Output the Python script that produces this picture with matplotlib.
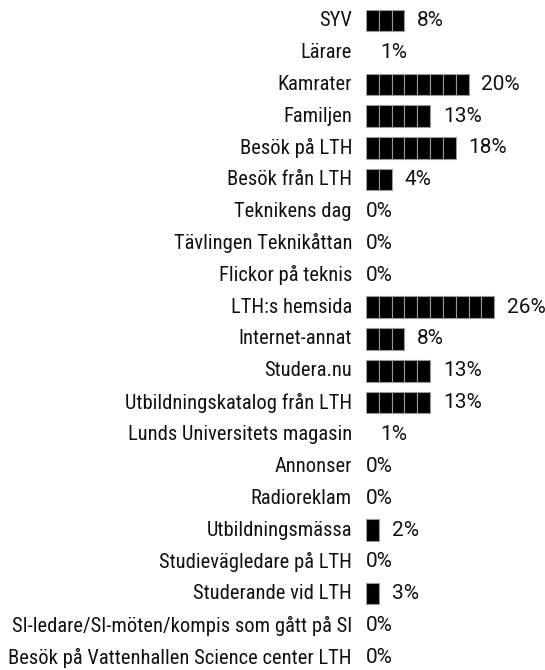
import matplotlib
matplotlib.use("Agg")
import matplotlib.pyplot as plt

categories = [
    "SYV", "Lärare", "Kamrater", "Familjen", "Besök på LTH", "Besök från LTH",
    "Teknikens dag", "Tävlingen Teknikåttan", "Flickor på teknis", "LTH:s hemsida",
    "Internet-annat", "Studera.nu", "Utbildningskatalog från LTH",
    "Lunds Universitets magasin", "Annonser", "Radioreklam", "Utbildningsmässa",
    "Studievägledare på LTH", "Studerande vid LTH",
    "SI-ledare/SI-möten/kompis som gått på SI",
    "Besök på Vattenhallen Science center LTH",
]
percent = [8, 1, 20, 13, 18, 4, 0, 0, 0, 26, 8, 13, 13, 1, 0, 0, 2, 0, 3, 0, 0]
# number of bar segments seen in the picture
segments = [3, 0, 8, 5, 7, 2, 0, 0, 0, 10, 3, 5, 5, 0, 0, 0, 1, 0, 1, 0, 0]

LABEL_FONT = ["Roboto Condensed", "DejaVu Sans"]
PCT_FONT = ["Roboto", "DejaVu Sans"]

fig = plt.figure(figsize=(5.45, 6.70), dpi=100)
ax = fig.add_axes([366 / 545, 0, 179.5 / 545, 1])
ax.set_xlim(0, 14)
top_px, step = 20.5, 31.85
ax.set_ylim((670 - top_px) / step, -top_px / step)

for i, (cnt, pct) in enumerate(zip(segments, percent)):
    for k in range(cnt):
        ax.barh(i, 1, left=k, height=0.67, color="black",
                edgecolor="#9a9a9a", linewidth=0.8)
    tx = cnt + 1.0 if cnt else 0.0 + pct * 1.1
    ax.text(tx, i, f"{pct}%", va="center", ha="left", fontsize=15,
            family=PCT_FONT, color="#111111", clip_on=False)
    fig.text(352 / 545, 1 - (top_px + i * step) / 670, categories[i],
             ha="right", va="center", fontsize=14.8, family=LABEL_FONT,
             color="#111111")

ax.axis("off")
fig.savefig("out.png", dpi=100)
